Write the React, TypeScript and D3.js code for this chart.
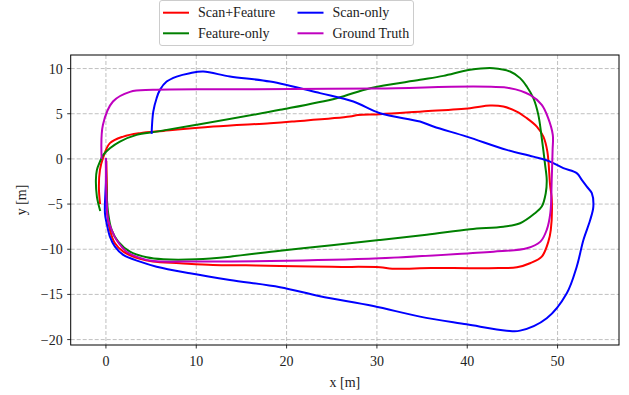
import * as d3 from 'd3';

// trajectory points [x, y] in metres
const scanFeature: [number, number][] = [
  [0.05, -0.33], [0.11, -3.43], [0.14, -6.01], [0.44, -7.86], [1.0, -9.34], [1.92, -10.27],
  [3.77, -11.07], [5.2, -11.37], [8.19, -11.55], [11.85, -11.74], [15.5, -11.78], [19.27, -11.85],
  [25.0, -11.95], [30.34, -11.99], [31.7, -12.15], [36.0, -12.08], [40.3, -12.1], [43.5, -12.08],
  [45.5, -12.0], [46.95, -11.55], [48.25, -10.82], [48.98, -9.16], [49.25, -7.86], [49.36, -4.54],
  [49.17, -2.88], [48.87, 0.81], [48.43, 2.47], [47.7, 3.58], [46.59, 4.51], [45.48, 5.24],
  [44.0, 5.79], [42.52, 5.9], [40.31, 5.61], [35.0, 5.25], [30.34, 4.95], [27.9, 4.87],
  [27.0, 4.68], [20.6, 4.13], [18.16, 3.95], [11.88, 3.58], [6.35, 3.1], [3.77, 2.85],
  [1.92, 2.47], [0.44, 1.74], [-0.33, 0.08], [-0.66, -1.22], [-0.78, -3.07], [-0.66, -4.9],
];

const featureOnly: [number, number][] = [
  [0, -0.33], [0.08, -3.8], [0.25, -6.01], [0.63, -7.86], [1.36, -9.16], [2.66, -10.27],
  [4.51, -10.89], [6.35, -11.11], [10.04, -11.11], [13.73, -10.82], [19.27, -10.16],
  [25.0, -9.55], [30.34, -8.97], [35.5, -8.4], [40.31, -7.79], [44.0, -7.5], [45.85, -7.12],
  [47.5, -6.01], [48.25, -5.28], [48.69, -3.8], [48.8, -2.33], [48.62, -0.66], [48.25, 2.29],
  [47.87, 4.87], [47.32, 6.72], [46.59, 8.01], [45.85, 8.94], [44.74, 9.67], [42.89, 10.04],
  [40.31, 9.86], [37.35, 9.19], [34.77, 8.75], [29.24, 7.83], [25.55, 6.72], [19.27, 5.43],
  [10.04, 3.77], [5.61, 3.02], [3.4, 2.66], [1.55, 1.92], [0.44, 1.18], [-0.3, 0.44],
  [-0.66, -0.3], [-1.0, -1.22], [-1.11, -2.33], [-1.0, -4.17], [-0.66, -5.65],
];

const scanOnly: [number, number][] = [
  [0, 0], [0, -2.33], [-0.11, -6.01], [0.08, -7.12], [0.44, -8.6], [1.0, -9.71], [1.92, -10.63],
  [3.77, -11.37], [5.61, -11.93], [9.3, -12.66], [13.73, -13.4], [19.27, -14.2], [23.7, -15.2],
  [29.6, -16.28], [34.77, -17.46], [39.94, -18.31], [44.37, -19.01], [45.85, -19.01],
  [48.8, -17.64], [51.02, -14.87], [52.12, -11.93], [52.86, -8.97], [53.6, -6.8], [53.96, -5.28],
  [53.79, -3.8], [53.24, -3.07], [52.68, -2.33], [52.12, -1.58], [50.64, -1.03], [49.17, -0.3],
  [47.32, 0.25], [44.37, 1.0], [39.94, 2.47], [36.25, 3.58], [34.77, 4.13], [30.34, 5.06],
  [27.39, 6.35], [23.7, 7.28], [18.16, 8.56], [13.73, 9.11], [10.78, 9.67], [9.3, 9.49],
  [7.83, 9.11], [6.72, 8.56], [5.98, 7.64], [5.61, 6.72], [5.24, 5.24], [5.06, 2.88],
];

const groundTruth: [number, number][] = [
  [0, 0], [0, -2.33], [0.08, -4.54], [0.25, -6.76], [0.63, -7.86], [1.18, -8.97], [2.29, -10.27],
  [3.77, -10.96], [5.2, -11.3], [10.0, -11.35], [18.2, -11.3], [30.3, -11.0], [40.3, -10.44],
  [42.9, -10.27], [46.6, -9.9], [48.1, -9.16], [48.8, -7.86], [49.2, -5.98], [49.35, -2.33],
  [49.45, 1.0], [49.47, 2.66], [48.95, 4.54], [48.25, 5.98], [46.95, 7.09], [44.74, 7.83],
  [30.0, 7.8], [15.0, 7.7], [5.2, 7.64], [2.66, 7.42], [0.78, 6.35], [-0.33, 3.77], [-0.48, 0.11],
];

const seriesNames = ['Scan+Feature', 'Feature-only', 'Scan-only', 'Ground Truth'];
const seriesColors = ['#ff0000', '#008000', '#0000ff', '#bf00bf'];
const seriesData = [scanFeature, featureOnly, scanOnly, groundTruth];

const xTicks = [0, 10, 20, 30, 40, 50];
const yTicks = [-20, -15, -10, -5, 0, 5, 10];

const W = 629;
const H = 395;
const margin = { top: 55, right: 10, bottom: 50, left: 70.7 };
const font = '"Liberation Serif", "DejaVu Serif", serif';

const fmt = (v: number) => (v < 0 ? '\u2212' + Math.abs(v) : String(v));

export default function App() {
  const x = d3.scaleLinear().domain([-3.9, 56.8]).range([margin.left, W - margin.right]);
  const y = d3.scaleLinear().domain([-20.6, 11.5]).range([H - margin.bottom, margin.top]);

  const line = d3
    .line<[number, number]>()
    .x(d => x(d[0]))
    .y(d => y(d[1]))
    .curve(d3.curveCatmullRom.alpha(0.5));

  const [x0, x1] = x.range();
  const [y0, y1] = y.range();

  // legend is column-major, 2 columns
  const legendX = 159.5;
  const legendY = 0.5;
  const colX = [163, 297.5];
  const rowY = [12.7, 33.3];

  return (
    <svg width={W} height={H} style={{ position: 'absolute', left: 0, top: 0, background: '#fff' }} fontFamily={font}>
      <defs>
        <clipPath id="plot-clip">
          <rect x={x0} y={y1} width={x1 - x0} height={y0 - y1} />
        </clipPath>
      </defs>

      {/* grid */}
      <g stroke="#b0b0b0" strokeWidth={0.8} strokeDasharray="4,2">
        {xTicks.map(t => (
          <line key={'gx' + t} x1={x(t)} x2={x(t)} y1={y1} y2={y0} />
        ))}
        {yTicks.map(t => (
          <line key={'gy' + t} x1={x0} x2={x1} y1={y(t)} y2={y(t)} />
        ))}
      </g>

      {/* trajectories */}
      <g clipPath="url(#plot-clip)" fill="none" strokeWidth={2} strokeLinejoin="round" strokeLinecap="square">
        {seriesData.map((d, i) => (
          <path key={seriesNames[i]} d={line(d) || ''} stroke={seriesColors[i]} />
        ))}
      </g>

      {/* frame */}
      <rect x={x0} y={y1} width={x1 - x0} height={y0 - y1} fill="none" stroke="#000" strokeWidth={1} />

      {/* x axis */}
      <g fontSize={14} textAnchor="middle" fill="#222">
        {xTicks.map(t => (
          <g key={'xt' + t}>
            <line x1={x(t)} x2={x(t)} y1={y0} y2={y0 + 3.5} stroke="#000" strokeWidth={0.8} />
            <text x={x(t)} y={y0 + 21}>{fmt(t)}</text>
          </g>
        ))}
      </g>
      <text x={(x0 + x1) / 2} y={387} fontSize={14} textAnchor="middle" fill="#222">x [m]</text>

      {/* y axis */}
      <g fontSize={14} textAnchor="end" fill="#222">
        {yTicks.map(t => (
          <g key={'yt' + t}>
            <line x1={x0 - 3.5} x2={x0} y1={y(t)} y2={y(t)} stroke="#000" strokeWidth={0.8} />
            <text x={x0 - 8} y={y(t) + 5}>{fmt(t)}</text>
          </g>
        ))}
      </g>
      <text
        transform={`translate(${26},${(y0 + y1) / 2}) rotate(-90)`}
        fontSize={14}
        textAnchor="middle"
        fill="#222"
      >
        y [m]
      </text>

      {/* legend */}
      <rect x={legendX} y={legendY} width={254} height={45} rx={2.5} fill="#fff" fillOpacity={0.8} stroke="#cccccc" strokeWidth={1} />
      {seriesNames.map((name, i) => {
        const cx = colX[Math.floor(i / 2)];
        const cy = rowY[i % 2];
        return (
          <g key={'lg' + name}>
            <line x1={cx} x2={cx + 26} y1={cy} y2={cy} stroke={seriesColors[i]} strokeWidth={2} />
            <text x={cx + 35} y={cy + 4.5} fontSize={14} fill="#222">{name}</text>
          </g>
        );
      })}
    </svg>
  );
}
